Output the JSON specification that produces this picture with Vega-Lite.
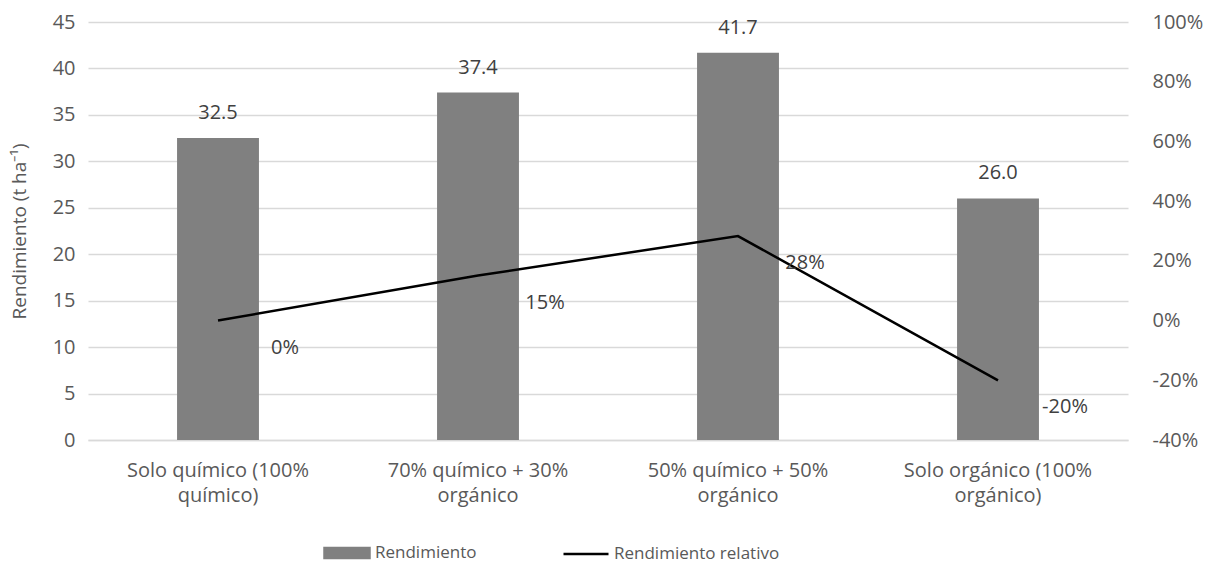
{
  "$schema": "https://vega.github.io/schema/vega-lite/v6.json",
  "width": 1040,
  "height": 418,
  "autosize": {"type": "none"},
  "padding": {"left": 88, "top": 22, "right": 79, "bottom": 123},
  "background": "white",
  "config": {
    "font": "Open Sans",
    "view": {"stroke": null},
    "locale": {"number": {"decimal": ".", "thousands": ",", "grouping": [3], "currency": ["$", ""], "minus": "-"}},
    "axis": {"labelFont": "Open Sans", "labelFontSize": 20, "labelColor": "#595959", "titleFont": "Open Sans", "titleFontSize": 19, "titleColor": "#595959", "titleFontWeight": "normal", "ticks": false, "domain": false, "gridColor": "#d9d9d9", "gridWidth": 1.3}
  },
  "data": {
    "values": [
      {"cat": "Solo químico (100%|químico)", "rend": 32.5, "rel": 0.0},
      {"cat": "70% químico + 30%|orgánico", "rend": 37.4, "rel": 0.1508},
      {"cat": "50% químico + 50%|orgánico", "rend": 41.7, "rel": 0.2831},
      {"cat": "Solo orgánico (100%|orgánico)", "rend": 26.0, "rel": -0.2}
    ]
  },
  "encoding": {
    "x": {
      "field": "cat", "type": "nominal", "sort": null, "title": null,
      "scale": {"paddingInner": 0.685, "paddingOuter": 0.3425},
      "axis": {"labelAngle": 0, "labelExpr": "split(datum.label, '|')", "labelLineHeight": 25, "labelPadding": 20, "labelLimit": 400, "labelOverlap": false, "grid": false, "domain": true, "domainColor": "#d9d9d9", "domainWidth": 1.3}
    }
  },
  "layer": [
    {
      "layer": [
        {
          "mark": {"type": "bar", "color": "#808080"},
          "encoding": {
            "y": {"field": "rend", "type": "quantitative", "title": "Rendimiento (t ha⁻¹)",
              "scale": {"domain": [0, 45], "nice": false},
              "axis": {"values": [0, 5, 10, 15, 20, 25, 30, 35, 40, 45], "grid": true, "labelPadding": 13, "titlePadding": 23}},
            "color": {"datum": "Rendimiento", "type": "nominal",
              "scale": {"domain": ["Rendimiento", "Rendimiento relativo"], "range": ["#808080", "#000000"]},
              "legend": {
                "title": null, "orient": "none", "legendX": 235, "legendY": 507, "direction": "horizontal",
                "labelFont": "Open Sans", "labelFontSize": 17, "labelColor": "#595959", "labelLimit": 400,
                "symbolSize": 2025, "symbolStrokeWidth": 2.5, "labelOffset": 4, "columnPadding": 81,
                "encode": {"symbols": {"update": {
                  "shape": {"signal": "datum.value === 'Rendimiento' ? 'M-1,-0.22H1V0.22H-1Z' : 'stroke'"},
                  "fill": {"signal": "datum.value === 'Rendimiento' ? '#808080' : 'transparent'"},
                  "stroke": {"signal": "datum.value === 'Rendimiento' ? 'transparent' : '#000000'"},
                  "strokeWidth": {"value": 2.5},
                  "opacity": {"value": 1}
                }}}
              }}
          }
        },
        {
          "mark": {"type": "text", "baseline": "middle", "dy": -25, "fontSize": 20, "color": "#404040", "font": "Open Sans"},
          "encoding": {
            "y": {"field": "rend", "type": "quantitative"},
            "text": {"field": "rend", "type": "quantitative", "format": ".1f"}
          }
        }
      ]
    },
    {
      "layer": [
        {
          "mark": {"type": "line", "strokeWidth": 2.5},
          "encoding": {
            "y": {"field": "rel", "type": "quantitative", "title": null,
              "scale": {"domain": [-0.4, 1.0], "nice": false},
              "axis": {"orient": "right", "values": [-0.4, -0.2, 0, 0.2, 0.4, 0.6, 0.8, 1.0], "format": ".0%", "grid": false, "labelPadding": 24, "labelAlign": "left"}},
            "color": {"datum": "Rendimiento relativo", "type": "nominal"}
          }
        },
        {
          "mark": {"type": "text", "baseline": "middle", "align": "center", "dx": 67, "dy": 27, "fontSize": 20, "color": "#404040", "font": "Open Sans"},
          "encoding": {
            "y": {"field": "rel", "type": "quantitative"},
            "text": {"field": "rel", "type": "quantitative", "format": ".0%"}
          }
        }
      ]
    }
  ],
  "resolve": {"scale": {"y": "independent"}}
}
